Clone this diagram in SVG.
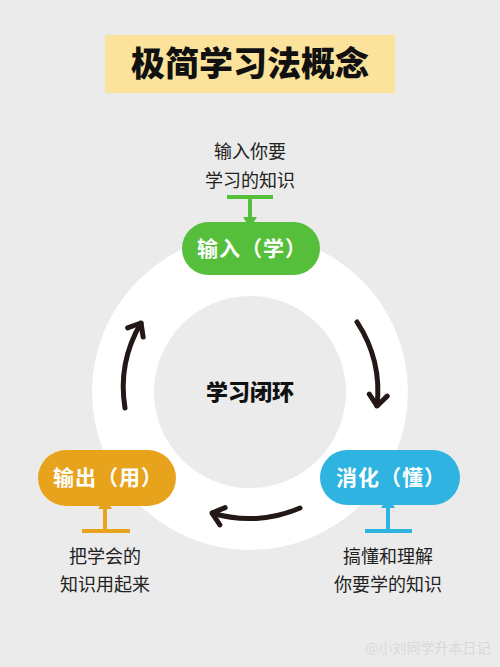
<svg xmlns="http://www.w3.org/2000/svg" width="500" height="667" viewBox="0 0 500 667">
<style>
.t{font-family:"Noto Sans CJK SC","Noto Sans",sans-serif;text-anchor:middle}
.pill{font-family:"Noto Sans CJK SC","Noto Sans",sans-serif;font-weight:700;font-size:21px;letter-spacing:1px;fill:#fff;text-anchor:middle}
.lab{font-family:"Noto Sans CJK SC","Noto Sans",sans-serif;font-size:18px;fill:#222;text-anchor:middle}
.cyc{fill:none;stroke:#231815;stroke-width:5;stroke-linecap:round}
</style>
<defs>
<marker id="chev" viewBox="-14 -12 16 24" markerWidth="16" markerHeight="24" refX="0" refY="0" orient="auto" markerUnits="userSpaceOnUse">
<path d="M-11,-9 L0,0 L-11,9" fill="none" stroke="#231815" stroke-width="5" stroke-linecap="round" stroke-linejoin="round"/>
</marker>
</defs>
<rect width="500" height="667" fill="#ebebeb"/>
<g id="title">
<rect x="105" y="35" width="290" height="58" fill="#fbe39b"/>
<text class="t" x="250" y="76" font-size="34" font-weight="900" fill="#111">极简学习法概念</text>
</g>
<g id="ring">
<circle cx="250" cy="392" r="158" fill="#fff"/>
<circle cx="250" cy="392" r="96" fill="#ebebeb"/>
<text class="t" x="250" y="400" font-size="22" font-weight="900" fill="#111">学习闭环</text>
</g>
<g id="connectors">
<path class="cyc" d="M125,408 A127,127 0 0 1 141,323" marker-end="url(#chev)"/>
<path class="cyc" d="M357,322 A127,127 0 0 1 377,406" marker-end="url(#chev)"/>
<path class="cyc" d="M300,508 A127,127 0 0 1 212,513" marker-end="url(#chev)"/>
</g>
<g id="input">
<rect x="182" y="222" width="138" height="53" rx="26.5" fill="#55bf3b"/>
<text class="pill" x="252" y="256">输入（学）</text>
<line x1="227" y1="197" x2="273" y2="197" stroke="#55bf3b" stroke-width="4"/>
<line x1="250" y1="197" x2="250" y2="220" stroke="#55bf3b" stroke-width="4"/>
<path d="M243,217 L257,217 L250,228 Z" fill="#55bf3b"/>
<text class="lab" x="250" y="158">输入你要</text>
<text class="lab" x="250" y="187">学习的知识</text>
</g>
<g id="digest">
<rect x="320" y="450" width="140" height="55" rx="27.5" fill="#2fb3e0"/>
<text class="pill" x="391" y="485">消化（懂）</text>
<line x1="365" y1="531" x2="412" y2="531" stroke="#2fb3e0" stroke-width="4"/>
<line x1="388" y1="531" x2="388" y2="505" stroke="#2fb3e0" stroke-width="4"/>
<path d="M381,508 L395,508 L388,497 Z" fill="#2fb3e0"/>
<text class="lab" x="388" y="563">搞懂和理解</text>
<text class="lab" x="388" y="591">你要学的知识</text>
</g>
<g id="output">
<rect x="38" y="450" width="138" height="56" rx="28" fill="#e8a31c"/>
<text class="pill" x="108" y="485">输出（用）</text>
<line x1="82" y1="531" x2="130" y2="531" stroke="#e8a31c" stroke-width="4"/>
<line x1="105" y1="531" x2="105" y2="506" stroke="#e8a31c" stroke-width="4"/>
<path d="M98,509 L112,509 L105,498 Z" fill="#e8a31c"/>
<text class="lab" x="105" y="563">把学会的</text>
<text class="lab" x="105" y="591">知识用起来</text>
</g>
<g id="watermark">
<text class="t" x="428" y="653" font-size="14" fill="#d9d9d9">@小刘同学升本日记</text>
</g>
</svg>
